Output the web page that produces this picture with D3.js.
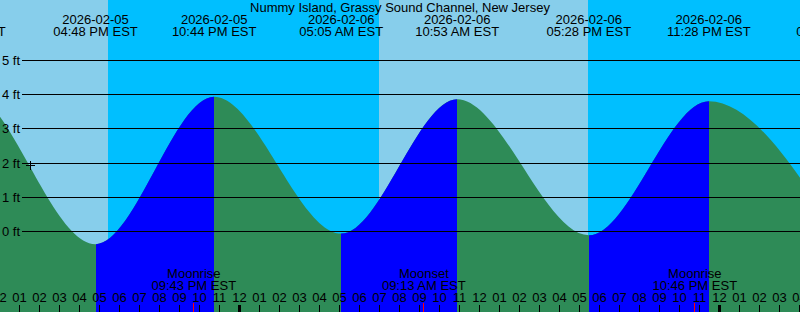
<!DOCTYPE html>
<html><head><meta charset="utf-8">
<script src="https://cdn.jsdelivr.net/npm/d3@7"></script>
<style>
body{margin:0;overflow:hidden;background:#fff}
svg{display:block}
text{font-family:"Liberation Sans",Arial,Helvetica,sans-serif;font-size:13px;fill:#000}
</style>
</head><body><svg id="c" width="800" height="312"></svg>
<script>
// ---- data (EST wall-clock times) ----
const title = "Nummy Island, Grassy Sound Channel, New Jersey";
const tideTimes = ["2026-02-05 04:05","2026-02-05 10:13","2026-02-05 16:48","2026-02-05 22:44","2026-02-06 05:05","2026-02-06 10:53","2026-02-06 17:28","2026-02-06 23:28","2026-02-07 05:56"];
const tideLevels = [-0.3, 4.2, -0.37, 3.94, -0.06, 3.87, -0.11, 3.81, -0.12];
const sunriseTimes = ["2026-02-05 06:59","2026-02-06 06:58"];
const sunsetTimes  = ["2026-02-05 17:25","2026-02-06 17:26"];
const moonTimes  = ["2026-02-05 21:43","2026-02-06 09:13","2026-02-06 22:46"];
const moonLabels = ["Moonrise","Moonset","Moonrise"];
const yTicks = [0,1,2,3,4,5];
const nowTime = "2026-02-05 13:32";
const nowLevel = 1.94;

const W = 800, H = 312;
const parse = d3.utcParse("%Y-%m-%d %H:%M");
const fmtDate = d3.utcFormat("%Y-%m-%d");
const fmtTime = t => d3.utcFormat("%I:%M %p")(t) + " EST";
const fmtHour = d3.utcFormat("%I");

const x = d3.scaleUtc()
  .domain([parse("2026-02-06 00:00"), parse("2026-02-07 00:00")])
  .range([239.5, 719.5]);
const y = d3.scaleLinear().domain([0,5]).range([231.5, 60.5]);

const svg = d3.select("#c");
const tide = tideTimes.map((t,i)=>({t:parse(t), v:tideLevels[i]}));

// background: night, then daylight rects
svg.append("rect").attr("width",W).attr("height",H).attr("fill","#00bfff");
const rises = sunriseTimes.map(parse), sets = sunsetTimes.map(parse);
const dayIntervals = rises.map((r,i)=>[r, sets[i]]);
svg.append("g").selectAll("rect").data(dayIntervals).join("rect")
  .attr("x", d=>x(d[0])).attr("width", d=>x(d[1])-x(d[0]))
  .attr("y",0).attr("height",H).attr("fill","#87ceeb").attr("shape-rendering","crispEdges");

// tide area: falling = green, rising = blue
const area = d3.area().x(d=>x(d.t)).y0(H).y1(d=>y(d.v)).curve(d3.curveMonotoneX);
svg.append("path").datum(tide).attr("d",area).attr("fill","#2e8b57");

const rising = [];
for (let i=0;i<tide.length-1;i++) if (tide[i+1].v > tide[i].v) rising.push([tide[i].t, tide[i+1].t]);
const clip = svg.append("clipPath").attr("id","rise");
clip.selectAll("rect").data(rising).join("rect")
  .attr("x", d=>Math.round(x(d[0]))).attr("width", d=>Math.round(x(d[1]))-Math.round(x(d[0])))
  .attr("y",0).attr("height",H);
svg.append("path").datum(tide).attr("d",area).attr("fill","#0000ff").attr("clip-path","url(#rise)");

// grid lines and y labels
const gy = svg.append("g");
gy.selectAll("line").data(yTicks).join("line")
  .attr("x1",22).attr("x2",W)
  .attr("y1",d=>Math.round(y(d)-0.5)+0.5).attr("y2",d=>Math.round(y(d)-0.5)+0.5)
  .attr("stroke","#000").attr("stroke-width",1);
gy.selectAll("text").data(yTicks).join("text")
  .attr("x",2).attr("y",d=>y(d)+4.5).text(d=>d+" ft");

// header: title and tide extreme labels
svg.append("text").attr("x",400).attr("y",12).attr("text-anchor","middle").text(title);
const hdr = svg.append("g").selectAll("g").data(tide).join("g");
hdr.append("text").attr("x",d=>x(d.t)).attr("y",24).attr("text-anchor","middle").text(d=>fmtDate(d.t));
hdr.append("text").attr("x",d=>x(d.t)).attr("y",36).attr("text-anchor","middle").text(d=>fmtTime(d.t));

// moon labels
const moon = moonTimes.map((t,i)=>({t:parse(t), label:moonLabels[i]}));
const mg = svg.append("g").selectAll("g").data(moon).join("g");
mg.append("text").attr("x",d=>x(d.t)).attr("y",278).attr("text-anchor","middle").text(d=>d.label);
mg.append("text").attr("x",d=>x(d.t)).attr("y",290).attr("text-anchor","middle").text(d=>fmtTime(d.t));

// hour ticks + labels
const hours = d3.utcHour.range(d3.utcHour.floor(x.invert(-20)), x.invert(W+20));
const hg = svg.append("g");
hg.selectAll("text").data(hours).join("text")
  .attr("x",d=>x(d)).attr("y",302).attr("text-anchor","middle").text(d=>fmtHour(d));
hg.selectAll("line").data(hours).join("line")
  .attr("x1",d=>x(d)).attr("x2",d=>x(d)).attr("y1",305).attr("y2",H)
  .attr("stroke","#000").attr("stroke-width",d=>d.getUTCHours()===0?3:1)
  .attr("shape-rendering","crispEdges");
// moon event ticks
svg.append("g").selectAll("line").data(moon).join("line")
  .attr("x1",d=>Math.floor(x(d.t))+0.5).attr("x2",d=>Math.floor(x(d.t))+0.5)
  .attr("y1",303).attr("y2",H).attr("stroke","#ff0000").attr("stroke-width",1);

// current time marker
const nx = Math.round(x(parse(nowTime)))+0.5, ny = Math.round(y(nowLevel))+0.5;
svg.append("path").attr("d",`M${nx-4.5},${ny}H${nx+4.5}M${nx},${ny-4.5}V${ny+4.5}`)
  .attr("stroke","#000").attr("stroke-width",1);
</script>
</body></html>
